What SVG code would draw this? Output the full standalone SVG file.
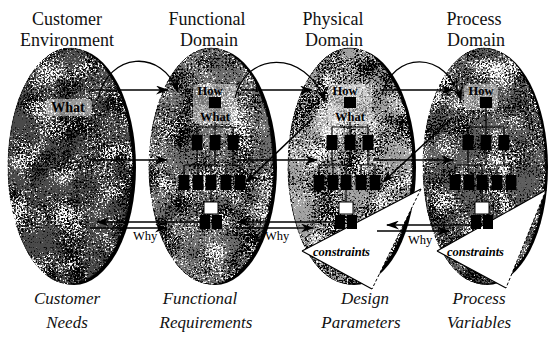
<svg xmlns="http://www.w3.org/2000/svg" width="548" height="338" viewBox="0 0 548 338">
<style>
  text{font-family:"Liberation Serif","DejaVu Serif",serif}
  .title{font-size:18px;fill:#111;text-anchor:middle}
  .sub{font-size:17px;font-style:italic;fill:#111;text-anchor:middle}
  .lab{font-size:12.5px;font-weight:bold;fill:#000;text-anchor:middle}
  .why{font-size:12.5px;fill:#000}
  .con{font-size:12.5px;font-style:italic;font-weight:bold;fill:#000}
  .shadow{fill:#000}
  .oval{stroke:#111;stroke-width:1;filter:url(#grain)}
  .patch{fill:#fff;opacity:0.45}
  .blk{fill:#000}
  .wbox{fill:#fff;stroke:#000;stroke-width:1}
  .tree{fill:none;stroke:#000;stroke-width:1.2}
  .tri{fill:#fff;stroke:none}
  .edge{stroke:#000;stroke-width:1.2;fill:none}
  .dash{stroke:#000;stroke-width:1;stroke-dasharray:3 2;fill:none}
  .arr{fill:none;stroke:#000;stroke-width:1.6;marker-end:url(#ah)}
  .arc{fill:none;stroke:#000;stroke-width:1.3;marker-end:url(#ah)}
</style>
<defs>
  <filter id="grain" x="-5%" y="-5%" width="110%" height="110%" color-interpolation-filters="sRGB">
    <feTurbulence type="fractalNoise" baseFrequency="0.55" numOctaves="3" seed="11" result="n1"/>
    <feTurbulence type="fractalNoise" baseFrequency="0.035" numOctaves="2" seed="4" result="n2"/>
    <feComposite in="n1" in2="n2" operator="arithmetic" k1="0" k2="0.6" k3="0.4" k4="0" result="n"/>
    <feColorMatrix in="n" type="matrix" values="0 0 0 0 0  0 0 0 0 0  0 0 0 0 0  9 0 0 0 -4.3" result="blk"/>
    <feColorMatrix in="n" type="matrix" values="0 0 0 0 1  0 0 0 0 1  0 0 0 0 1  0 -9 0 0 4.2" result="wht"/>
    <feMerge result="m"><feMergeNode in="SourceGraphic"/><feMergeNode in="blk"/><feMergeNode in="wht"/></feMerge>
    <feComposite in="m" in2="SourceGraphic" operator="in"/>
  </filter>
  <marker id="ah" markerUnits="userSpaceOnUse" markerWidth="13" markerHeight="9" refX="12" refY="4.5" orient="auto">
    <path d="M0,0 L13,4.5 L0,9 L4,4.5 z" fill="#000"/>
  </marker>
</defs>
<rect width="548" height="338" fill="#fff"/>

<!-- titles -->
<g id="titles">
  <text class="title" x="67" y="25">Customer</text>
  <text class="title" x="67" y="46">Environment</text>
  <text class="title" x="207" y="25">Functional</text>
  <text class="title" x="209" y="46">Domain</text>
  <text class="title" x="333" y="25">Physical</text>
  <text class="title" x="334" y="46">Domain</text>
  <text class="title" x="474" y="25">Process</text>
  <text class="title" x="476" y="46">Domain</text>
  <text class="sub" x="67" y="304">Customer</text>
  <text class="sub" x="67" y="328">Needs</text>
  <text class="sub" x="200" y="304">Functional</text>
  <text class="sub" x="206" y="328">Requirements</text>
  <text class="sub" x="365" y="304">Design</text>
  <text class="sub" x="361" y="328">Parameters</text>
  <text class="sub" x="479" y="304">Process</text>
  <text class="sub" x="479" y="328">Variables</text>
</g>

<!-- Customer domain -->
<g id="customer">
  <ellipse class="shadow" cx="74" cy="167" rx="62" ry="118"/>
  <ellipse class="oval" cx="70" cy="166" rx="62" ry="118" fill="#4a4a4a"/>
  <rect class="patch" x="46" y="99" width="46" height="17" rx="4"/>
  <text class="lab" x="68" y="112" style="font-size:14px">What</text>
</g>

<!-- Functional domain -->
<g id="functional">
  <ellipse class="shadow" cx="215" cy="167" rx="62" ry="118"/>
  <ellipse class="oval" cx="211" cy="166" rx="62" ry="118" fill="#6e6e6e"/>
  <rect class="patch" x="193" y="84" width="44" height="40" rx="5"/>
  <text class="lab" x="210" y="95">How</text>
  <rect class="blk" x="209" y="97" width="12" height="11"/>
  <text class="lab" x="215" y="121">What</text>
  <path class="tree" d="M215 122V127 M197 127H233 M197 127V135 M215 127V135 M233 127V135 M197 150V165 M215 150V165 M233 150V165 M184 165H215 M226 165H240 M184 165V175 M198 165V175 M211 165V175 M226 165V175 M240 165V175 M211 190V202"/>
  <rect class="blk" x="191.5" y="135" width="11" height="15"/>
  <rect class="blk" x="209.5" y="135" width="11" height="15"/>
  <rect class="blk" x="227.5" y="135" width="11" height="15"/>
  <rect class="blk" x="178.5" y="175" width="11" height="15"/>
  <rect class="blk" x="192.5" y="175" width="11" height="15"/>
  <rect class="blk" x="205.5" y="175" width="11" height="15"/>
  <rect class="blk" x="220.5" y="175" width="11" height="15"/>
  <rect class="blk" x="234.5" y="175" width="11" height="15"/>
  <rect class="wbox" x="204" y="202" width="14" height="12"/>
  <rect class="blk" x="200" y="215" width="10" height="14"/>
  <rect class="blk" x="212" y="215" width="10" height="14"/>
</g>

<!-- Physical domain -->
<g id="physical">
  <ellipse class="shadow" cx="354" cy="167" rx="62" ry="118"/>
  <ellipse class="oval" cx="350" cy="166" rx="62" ry="118" fill="#a2a2a2"/>
  <polygon class="tri" points="302,251 421,189 372,289"/>
  <path class="edge" d="M302 251L421 189 M302 251L372 289"/>
  <path class="dash" d="M421 189L372 289"/>
  <text class="con" x="313" y="256">constraints</text>
  <rect class="patch" x="328" y="84" width="44" height="40" rx="5"/>
  <text class="lab" x="345" y="95">How</text>
  <rect class="blk" x="344" y="97" width="12" height="11"/>
  <text class="lab" x="350" y="121">What</text>
  <path class="tree" d="M350 122V127 M332 127H368 M332 127V135 M350 127V135 M368 127V135 M332 150V165 M350 150V165 M368 150V165 M319 165H350 M361 165H375 M319 165V175 M333 165V175 M346 165V175 M361 165V175 M375 165V175 M346 190V202"/>
  <rect class="blk" x="326.5" y="135" width="11" height="15"/>
  <rect class="blk" x="344.5" y="135" width="11" height="15"/>
  <rect class="blk" x="362.5" y="135" width="11" height="15"/>
  <rect class="blk" x="313.5" y="175" width="11" height="15"/>
  <rect class="blk" x="327.5" y="175" width="11" height="15"/>
  <rect class="blk" x="340.5" y="175" width="11" height="15"/>
  <rect class="blk" x="355.5" y="175" width="11" height="15"/>
  <rect class="blk" x="369.5" y="175" width="11" height="15"/>
  <rect class="wbox" x="339" y="202" width="14" height="12"/>
  <rect class="blk" x="335" y="215" width="10" height="14"/>
  <rect class="blk" x="347" y="215" width="10" height="14"/>
</g>

<!-- Process domain -->
<g id="process">
  <ellipse class="shadow" cx="487" cy="167" rx="61" ry="118"/>
  <ellipse class="oval" cx="484" cy="166" rx="61" ry="118" fill="#5e5e5e"/>
  <polygon class="tri" points="437,251 546,190 506,288"/>
  <path class="edge" d="M437 251L546 190 M437 251L506 288"/>
  <path class="dash" d="M546 190L506 288"/>
  <text class="con" x="447" y="256">constraints</text>
  <rect class="patch" x="464" y="84" width="34" height="26" rx="5"/>
  <text class="lab" x="481" y="95">How</text>
  <rect class="blk" x="480" y="97" width="12" height="11"/>
  <path class="tree" d="M486 108V127 M468 127H504 M468 127V135 M486 127V135 M504 127V135 M468 150V165 M486 150V165 M504 150V165 M455 165H486 M497 165H511 M455 165V175 M469 165V175 M482 165V175 M497 165V175 M511 165V175 M482 190V202"/>
  <rect class="blk" x="462.5" y="135" width="11" height="15"/>
  <rect class="blk" x="480.5" y="135" width="11" height="15"/>
  <rect class="blk" x="498.5" y="135" width="11" height="15"/>
  <rect class="blk" x="449.5" y="175" width="11" height="15"/>
  <rect class="blk" x="463.5" y="175" width="11" height="15"/>
  <rect class="blk" x="476.5" y="175" width="11" height="15"/>
  <rect class="blk" x="491.5" y="175" width="11" height="15"/>
  <rect class="blk" x="505.5" y="175" width="11" height="15"/>
  <rect class="wbox" x="475" y="202" width="14" height="12"/>
  <rect class="blk" x="471" y="215" width="10" height="14"/>
  <rect class="blk" x="483" y="215" width="10" height="14"/>
</g>

<!-- connectors -->
<g id="connectors">
  <path class="arc" d="M98 99 C108 52, 162 48, 178 92"/>
  <path class="arc" d="M235 98 C245 52, 305 48, 325 101"/>
  <path class="arc" d="M382 95 C392 52, 446 48, 461 100"/>
  <path class="arr" d="M90 90H168"/>
  <path class="arr" d="M241 90H312"/>
  <path class="arr" d="M380 90H453"/>
  <path class="arr" d="M90 160H167"/>
  <path class="arr" d="M237 160H317"/>
  <path class="arr" d="M373 160H453"/>
  <path class="arr" d="M313 118L246 182"/>
  <path class="arr" d="M452 118L383 182"/>
  <path class="arr" d="M200 222H97"/>
  <path class="arr" d="M90 228H167"/>
  <path class="arr" d="M335 222H237"/>
  <path class="arr" d="M237 228H313"/>
  <path class="arr" d="M471 225H387"/>
  <path class="arr" d="M377 231H449"/>
  <text class="why" x="133" y="240">Why</text>
  <text class="why" x="265" y="240">Why</text>
  <text class="why" x="408" y="244">Why</text>
</g>
</svg>
